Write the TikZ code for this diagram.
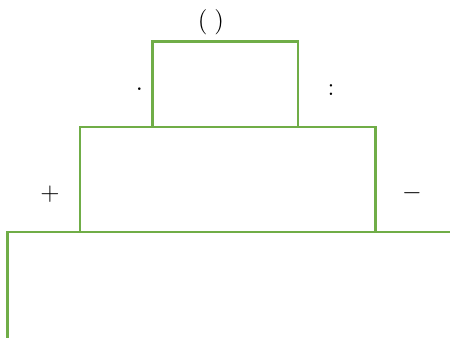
\documentclass[tikz,border=0pt]{standalone}
\usepackage{amsmath,amssymb}
\usepackage{tikz}
\usetikzlibrary{calc}
\definecolor{boxgreen}{RGB}{112,173,71}

\begin{document}
\begin{tikzpicture}[x=0.02cm,y=-0.02cm,font=\Large,
  frame/.style={draw=boxgreen,line width=1.5pt,line join=miter},
  sign/.style={anchor=base,inner sep=0pt}]
  \useasboundingbox (0,0) rectangle (450,338);
  \coordinate (TL) at (152.5,41.5);
  \coordinate (TR) at (298,127);
  \coordinate (ML) at (80,127);
  \coordinate (MR) at (375.5,232);
  \coordinate (B0) at (7.5,338);
  \coordinate (B1) at (7.5,232);
  \coordinate (B2) at (450,232);
  \draw[frame] (TL) rectangle (TR);
  \draw[frame] (ML) rectangle (MR);
  \draw[frame] (B0)--(B1)--(B2);
  \node[sign] (paren) at (211,29){$(\;)$};
  \node[sign] (dotl) at (139.5,95){$\cdot$};
  \node[sign] (colonr) at (331,95){$:$};
  \node[sign] (plus) at (50,200){$+$};
  \node[sign] (minus) at (412,199){$-$};
\end{tikzpicture}
\end{document}
